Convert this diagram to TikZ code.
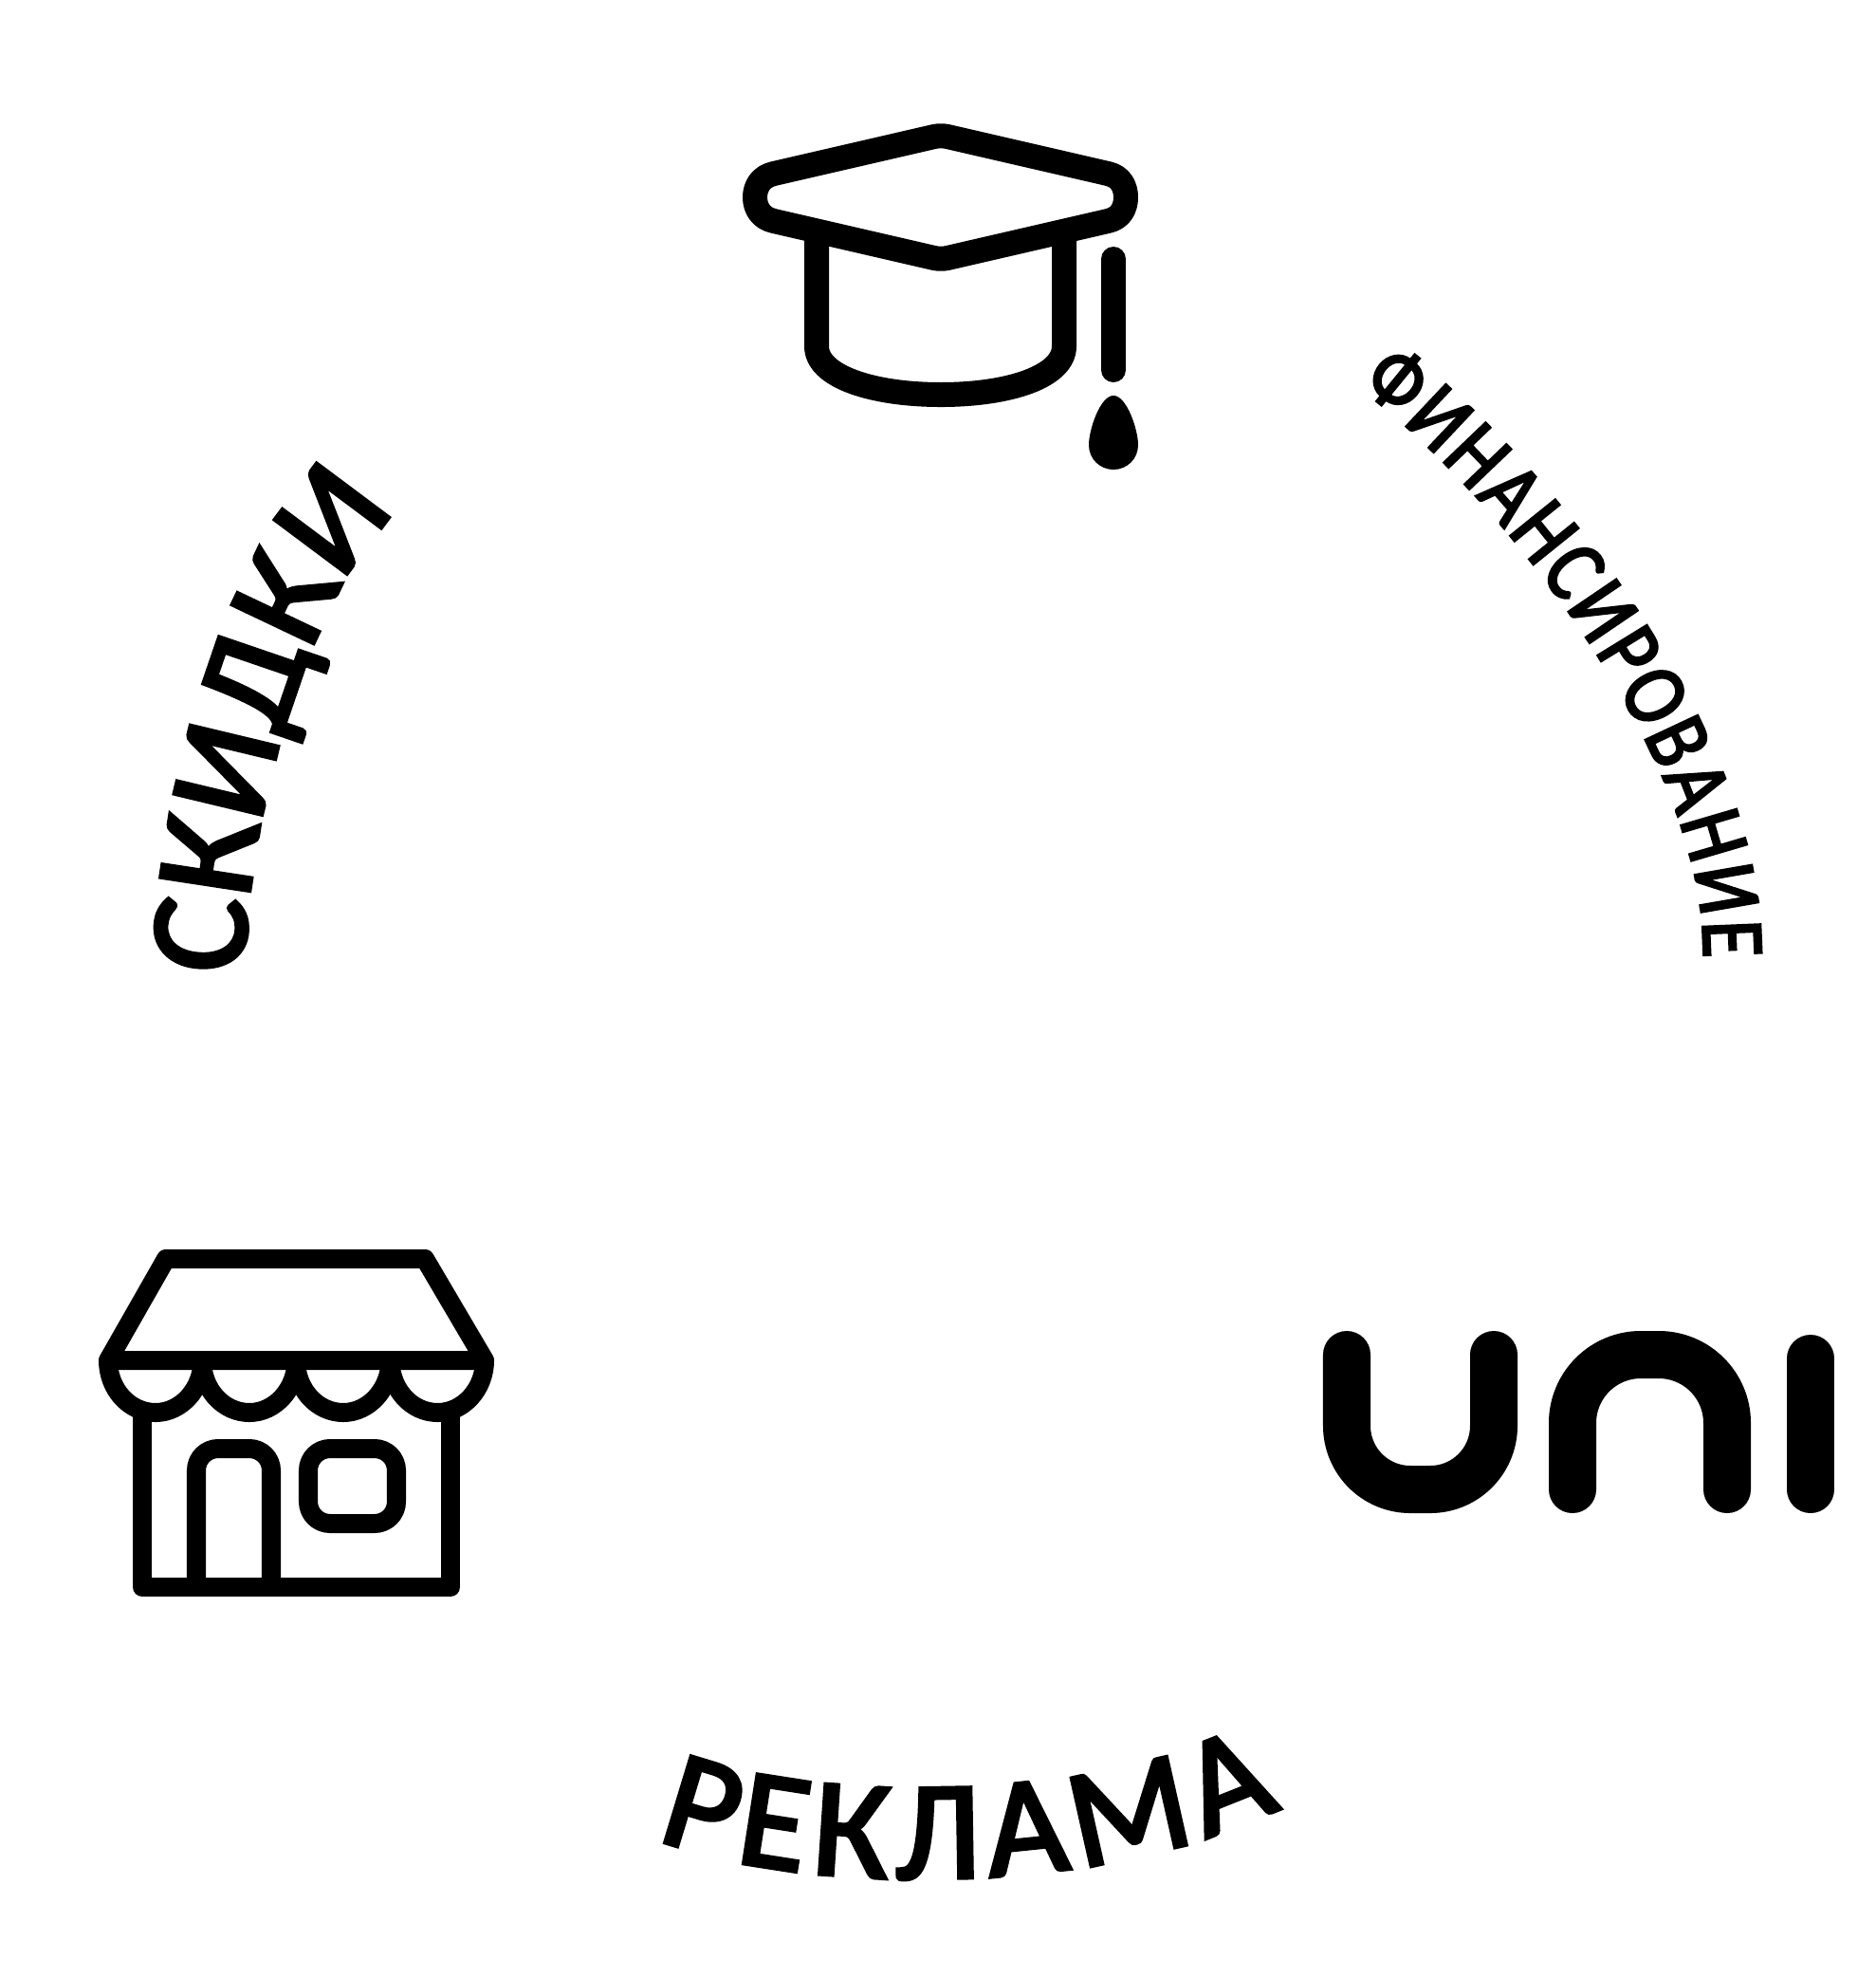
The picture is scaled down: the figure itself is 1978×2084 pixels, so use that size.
\documentclass[tikz,border=0pt]{standalone}
\usepackage{fontspec}
\setmainfont{Carlito}
\newfontfamily\labelfont[FakeBold=3]{Carlito}
\newfontfamily\narrowfont[FakeBold=2.6, FakeStretch=0.84]{Carlito}
\usetikzlibrary{decorations.text}

\begin{document}
\begin{tikzpicture}[x=0.01cm, y=-0.01cm,
	capline/.style={line width=0.26cm, line join=round},
	shopline/.style={line width=0.2cm, line join=round},
	uniline/.style={line width=0.5cm, line cap=round}]

		\useasboundingbox (0,0) rectangle (1978,2084);

		% cap %
		\draw[capline] (816,183) .. controls (802,186) and (796,197) .. (796,208) .. controls (796,219) and (802,230) .. (816,233) -- (985,272) .. controls (990,273) and (994,273) .. (999,272) -- (1168,233) .. controls (1182,230) and (1187,219) .. (1187,208) .. controls (1187,197) and (1182,186) .. (1168,183) -- (999,144) .. controls (994,143) and (990,143) .. (985,144) -- cycle;
		\draw[capline] (861,240) -- (861,365) .. controls (861,397) and (920,416) .. (992,416) .. controls (1064,416) and (1122,397) .. (1122,365) -- (1122,240);
		\draw[capline, line cap=round] (1174,273) -- (1174,390);
		\fill (1174,417) .. controls (1160,417) and (1148,453) .. (1148,469) .. controls (1148,484) and (1160,495) .. (1174,495) .. controls (1188,495) and (1200,484) .. (1200,469) .. controls (1200,453) and (1188,417) .. (1174,417) -- cycle;

		% shop %
		\draw[shopline] (114,1434) -- (175,1327) -- (448,1327) -- (511,1434) -- cycle;
		\foreach \sx in {114,213,312,411.5}
			\draw[shopline] (\sx,1434) .. controls (\sx,1464) and (\sx+22,1489) .. (\sx+50,1489) .. controls (\sx+77,1489) and (\sx+99.5,1464) .. (\sx+99.5,1434);
		\draw[shopline] (150,1480) -- (150,1673) -- (475,1673) -- (475,1480);
		\draw[shopline, rounded corners=0.23cm] (207,1673) -- (207,1527) -- (286,1527) -- (286,1673);
		\draw[shopline, rounded corners=0.23cm] (325,1527) rectangle (418,1606);

		% uni %
		\draw[uniline, rounded corners=0.67cm] (1420,1428) -- (1420,1570) -- (1575,1570) -- (1575,1428);
		\draw[uniline, rounded corners=0.72cm] (1658,1570) -- (1658,1428) -- (1821,1428) -- (1821,1570);
		\draw[uniline] (1909,1432) -- (1909,1570);

		% labels %
		\path[decorate, decoration={text along path, text align={fit to path}, text={|\labelfont\fontsize{42}{42}\selectfont|СКИДКИ}}] (258,1027) .. controls (258,869) and (322,639) .. (409,550);
		\path[decorate, decoration={text along path, text align={fit to path}, text={|\narrowfont\fontsize{27}{27}\selectfont|ФИНАНСИРОВАНИЕ}}] (1432,408) .. controls (1570,510) and (1800,790) .. (1796,1010);
		\path[decorate, decoration={text along path, text align={fit to path}, text={|\labelfont\fontsize{42}{42}\selectfont|РЕКЛАМА}}] (692,1937) .. controls (800,1987) and (1130,2012) .. (1350,1905);

		\end{tikzpicture}
\end{document}
